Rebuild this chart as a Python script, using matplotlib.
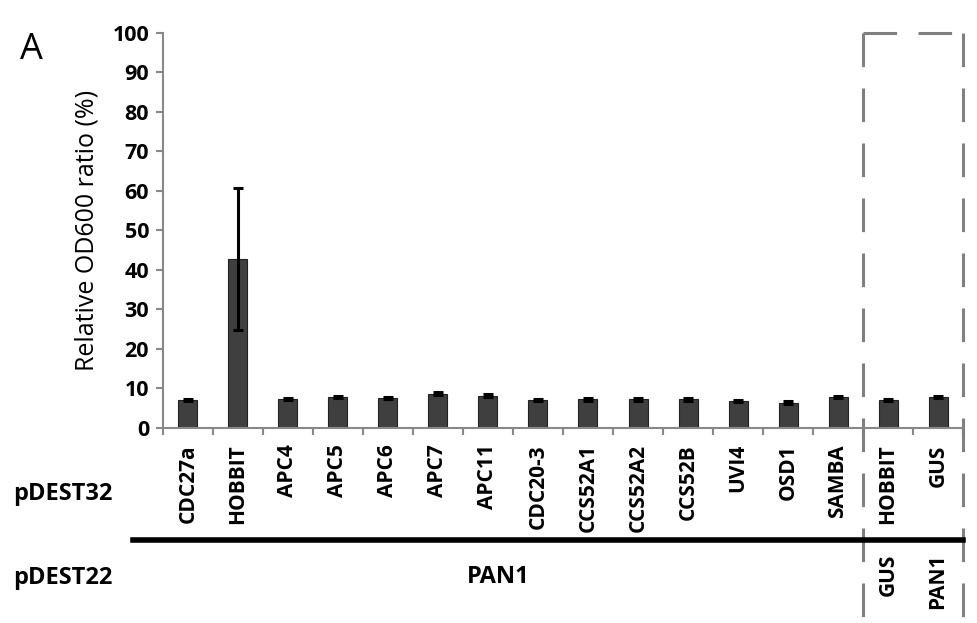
import matplotlib.pyplot as plt
import numpy as np

# pDEST32 constructs (x axis) and values
labels = ["CDC27a", "HOBBIT", "APC4", "APC5", "APC6", "APC7", "APC11", "CDC20-3",
          "CCS52A1", "CCS52A2", "CCS52B", "UVI4", "OSD1", "SAMBA", "HOBBIT", "GUS"]
values = [7.0, 42.6, 7.3, 7.8, 7.4, 8.6, 8.1, 7.0, 7.1, 7.1, 7.1, 6.7, 6.3, 7.7, 6.9, 7.7]
errors = [0.3, 18.0, 0.3, 0.3, 0.3, 0.3, 0.3, 0.3, 0.3, 0.3, 0.3, 0.3, 0.3, 0.3, 0.3, 0.3]
yticks = [0, 10, 20, 30, 40, 50, 60, 70, 80, 90, 100]

plt.rcParams['font.family'] = ['Open Sans', 'DejaVu Sans']

fig = plt.figure(figsize=(9.77, 6.23), dpi=100)
ax = fig.add_axes([0.1668, 0.3138, 0.8189, 0.6333])

x = np.arange(len(labels))
ax.bar(x, values, width=0.38, color="#3f3f3f", edgecolor="#222222", linewidth=0.8)
ax.errorbar(x, values, yerr=errors, fmt="none", ecolor="black", elinewidth=2.2, capsize=3.5, capthick=2.2)

ax.set_xlim(-0.5, len(labels) - 0.5)
ax.set_ylim(0, 100)
ax.set_yticks(yticks)
ax.set_yticklabels([str(v) for v in yticks], fontsize=15.5, fontweight="bold")
ax.set_ylabel("Relative OD600 ratio (%)", fontsize=18, labelpad=9)

ax.set_xticks(x)
ax.set_xticklabels(labels, rotation=90, fontsize=15, fontweight="bold", va="top")
ax.tick_params(axis="x", length=0, pad=12)
ax.set_xticks(np.arange(-0.5, len(labels), 1), minor=True)
ax.tick_params(axis="x", which="minor", length=5, width=1.5, color="#888888", direction="out")
ax.tick_params(axis="y", length=5, width=1.5, color="#888888", direction="out", pad=5)

for s in ["top", "right"]:
    ax.spines[s].set_visible(False)
for s in ["left", "bottom"]:
    ax.spines[s].set_color("#888888")
    ax.spines[s].set_linewidth(1.5)

# dashed box around the control constructs
trans = ax.get_xaxis_transform()
dash = dict(color="#808080", linewidth=2.2, linestyle=(0, (11, 7)), clip_on=False)
ax.plot([13.5, 13.5], [1.0, -0.5], transform=trans, **dash)
ax.plot([15.5, 15.5], [1.0, -0.5], transform=trans, **dash)
ax.plot([13.5, 15.5], [1.0, 1.0], transform=trans, **dash)

# pDEST32 / pDEST22 annotation
ax.plot([-1.1, 15.5], [-0.285, -0.285], transform=trans, color="black", linewidth=4, clip_on=False)
fig.text(0.013, 0.207, "pDEST32", fontsize=17, fontweight="bold", va="center", ha="left")
fig.text(0.013, 0.072, "pDEST22", fontsize=17, fontweight="bold", va="center", ha="left")
ax.text(6.2, -0.38, "PAN1", transform=trans, fontsize=17, fontweight="bold", ha="center", va="center")
ax.text(14, -0.32, "GUS", transform=trans, rotation=90, fontsize=15, fontweight="bold", ha="center", va="top")
ax.text(15, -0.32, "PAN1", transform=trans, rotation=90, fontsize=15, fontweight="bold", ha="center", va="top")

fig.text(0.02, 0.905, "A", fontsize=26)

fig.savefig("out.png", dpi=100)
